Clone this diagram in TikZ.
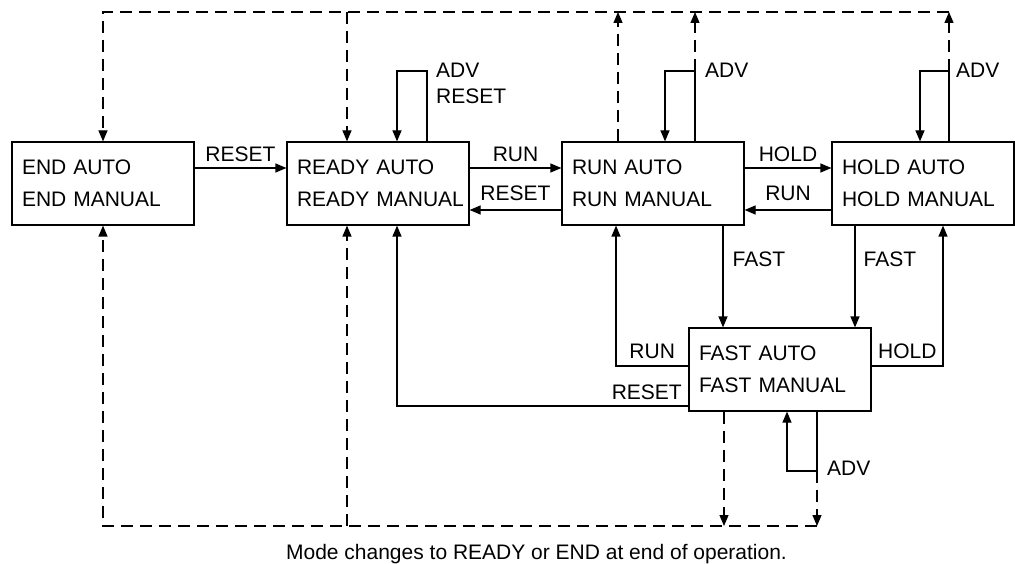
\documentclass[tikz,border=0pt]{standalone}
\usepackage{fontspec}
\setmainfont{Liberation Sans}
\usetikzlibrary{arrows.meta}
\begin{document}
\begin{tikzpicture}[x=1pt,y=-1pt,
  every node/.style={font=\fontsize{21pt}{32pt}\selectfont},
  box/.style={draw, line width=1.2pt, minimum width=182pt, minimum height=83pt,
    text width=162pt, inner xsep=10pt, inner ysep=0pt, align=left},
  ln/.style={line width=1.2pt},
  arr/.style={ln, -{Triangle[length=11pt,width=9pt]}},
  dsh/.style={ln, dash pattern=on 12pt off 7pt},
  lbl/.style={inner sep=0pt}
]
\useasboundingbox (0,0) rectangle (1015,564);

% states
\node[box] (endb)   at (103,183.5) {\mbox{END AUTO}\\\mbox{END MANUAL}};
\node[box] (readyb) at (378,183.5) {\mbox{READY AUTO}\\\mbox{READY MANUAL}};
\node[box] (runb)   at (653,183.5) {\mbox{RUN AUTO}\\\mbox{RUN MANUAL}};
\node[box] (holdb)  at (923,183.5) {\mbox{HOLD AUTO}\\\mbox{HOLD MANUAL}};
\node[box] (fastb)  at (780,369.5) {\mbox{FAST AUTO}\\\mbox{FAST MANUAL}};

% horizontal transitions
\draw[arr] (endb.east |- 0,168) -- node[lbl, above=6pt] (l1) {RESET} (readyb.west |- 0,168);
\draw[arr] (readyb.east |- 0,168) -- node[lbl, above=6pt] (l2) {RUN} (runb.west |- 0,168);
\draw[arr] (runb.west |- 0,210) -- node[lbl, above=9pt] (l3) {RESET} (readyb.east |- 0,210);
\draw[arr] (runb.east |- 0,168) -- node[lbl, above=6pt] (l4) {HOLD} (holdb.west |- 0,168);
\draw[arr] (holdb.west |- 0,210) -- node[lbl, above=9pt] (l5) {RUN} (runb.east |- 0,210);

% to / from FAST
\draw[arr] (runb.south -| 723,0) -- node[lbl, pos=0.33, right=9pt] (l6) {FAST} (fastb.north -| 723,0);
\draw[arr] (holdb.south -| 855,0) -- node[lbl, pos=0.33, right=8pt] (l7) {FAST} (fastb.north -| 855,0);
\draw[arr] (fastb.west |- 0,366) -| node[lbl, pos=0.25, above=7pt] (l8) {RUN} (runb.south -| 616,0);
\draw[arr] (fastb.east |- 0,366) -| node[lbl, pos=0.25, above=7pt] (l9) {HOLD} (holdb.south -| 943,0);
\draw[arr] (fastb.west |- 0,406) -| node[lbl, pos=0, anchor=south east, xshift=-6pt, yshift=6pt] (l10) {RESET} (readyb.south -| 397,0);

% self loops
\draw[arr] (readyb.north -| 427,0) |- (397,71) -- (readyb.north -| 397,0);
\node[lbl, anchor=base west] (advr) at (436,78) {ADV};
\node[lbl, anchor=base west] (rstr) at (436,104) {RESET};

\coordinate (rl) at (695,71);
\draw[arr] (runb.north -| 695,0) -- (rl) -| (runb.north -| 665,0);
\node[lbl, anchor=base west] (advrun) at (705,78) {ADV};

\coordinate (hl) at (949,71);
\draw[arr] (holdb.north -| 949,0) -- (hl) -| (holdb.north -| 920,0);
\node[lbl, anchor=base west] (advhold) at (956,78) {ADV};

\coordinate (fl) at (817,471);
\draw[arr] (fastb.south -| 817,0) -- (fl) -| (fastb.south -| 787,0);
\node[lbl, anchor=base west] (advfast) at (827,475) {ADV};

% dashed end-of-operation paths
\coordinate (tl) at (103,12);
\coordinate (tr) at (949,12);
\coordinate (bl) at (103,526);
\coordinate (br) at (817,526);
\draw[arr, dsh] (tr) -- (tl) -- (endb.north);
\draw[arr, dsh] (347,12) -- (readyb.north -| 347,0);
\draw[arr, dsh] (runb.north -| 618,0) -- (618,12);
\draw[arr, dsh] (rl) -- (695,12);
\draw[arr, dsh] (hl) -- (tr);
\draw[arr, dsh] (br) -- (bl) -- (endb.south);
\draw[arr, dsh] (347,526) -- (readyb.south -| 347,0);
\draw[arr, dsh] (fastb.south -| 724,0) -- (724,526);
\draw[arr, dsh] (fl) -- (br);

\node[lbl, anchor=base] (cap) at (536.5,559) {Mode changes to READY or END at end of operation.};
\end{tikzpicture}
\end{document}
